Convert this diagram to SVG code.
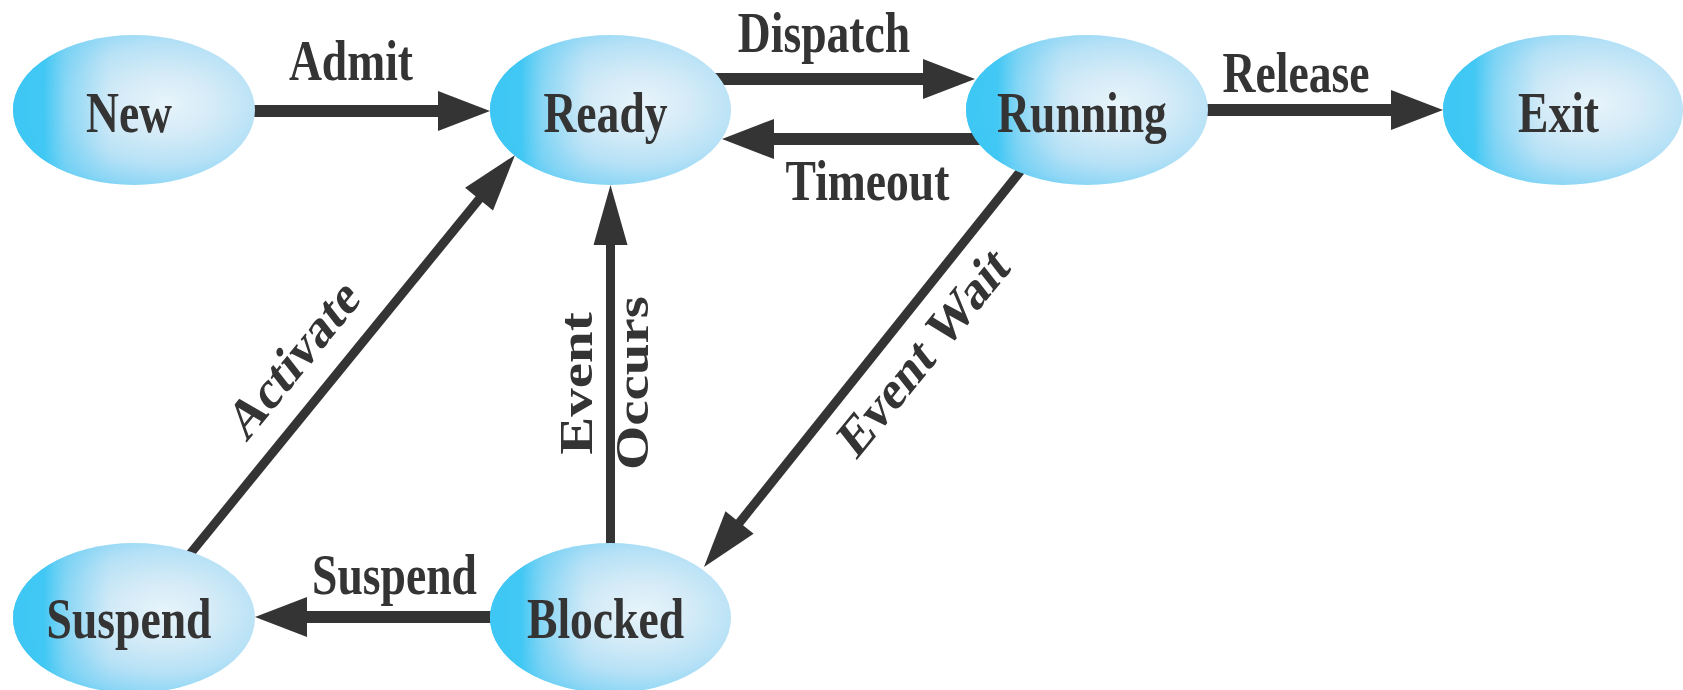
<svg xmlns="http://www.w3.org/2000/svg" width="1683" height="690" viewBox="0 0 1683 690">
  <style>
    .node { fill: url(#nodeFill); }
    .shade { fill: url(#nodeShade); }
    .lbl { font-family: "Liberation Serif", "Times New Roman", serif; font-weight: bold; font-size: 57px; fill: #353435; text-anchor: middle; }
    .edge { stroke: #353435; fill: none; stroke-linecap: butt; }
    .thick { stroke-width: 12; }
    .thin { stroke-width: 9; }
  </style>
  <defs>
    <radialGradient id="nodeFill" cx="0.63" cy="0.46" r="0.74">
      <stop offset="0" stop-color="#E8F4FB"/>
      <stop offset="0.28" stop-color="#D4EBF7"/>
      <stop offset="0.55" stop-color="#B6E1F6"/>
      <stop offset="0.75" stop-color="#8CD6F5"/>
      <stop offset="0.88" stop-color="#55CBF4"/>
      <stop offset="1" stop-color="#3EC7F4"/>
    </radialGradient>
    <linearGradient id="nodeShade" x1="0" y1="0" x2="1" y2="0">
      <stop offset="0" stop-color="#3EC7F4" stop-opacity="1"/>
      <stop offset="0.13" stop-color="#3EC7F4" stop-opacity="0.95"/>
      <stop offset="0.22" stop-color="#6CD0F4" stop-opacity="0.6"/>
      <stop offset="0.4" stop-color="#8CD6F5" stop-opacity="0"/>
    </linearGradient>
    <marker id="mh" markerUnits="userSpaceOnUse" viewBox="-53 -21 54 42" refX="-30" refY="0" markerWidth="54" markerHeight="42" orient="auto" overflow="visible">
      <path d="M0,0 L-52,-20 L-52,20 Z" fill="#353435"/>
    </marker>
    <marker id="mv" markerUnits="userSpaceOnUse" viewBox="-61 -18 62 36" refX="-30" refY="0" markerWidth="62" markerHeight="36" orient="auto" overflow="visible">
      <path d="M0,0 L-60,-17 L-60,17 Z" fill="#353435"/>
    </marker>
    <marker id="md" markerUnits="userSpaceOnUse" viewBox="-58 -19 59 38" refX="-30" refY="0" markerWidth="59" markerHeight="38" orient="auto" overflow="visible">
      <path d="M0,0 L-57,-18 L-57,18 Z" fill="#353435"/>
    </marker>
  </defs>

  <rect width="1683" height="690" fill="#FFFFFF"/>

  <g id="connectors">
    <line id="e-admit" class="edge thick" x1="250" y1="111" x2="460" y2="111" marker-end="url(#mh)"/>
    <line id="e-dispatch" class="edge thick" x1="715" y1="79" x2="945" y2="79" marker-end="url(#mh)"/>
    <line id="e-timeout" class="edge thick" x1="980" y1="139" x2="752" y2="139" marker-end="url(#mh)"/>
    <line id="e-release" class="edge thick" x1="1204" y1="110" x2="1413" y2="110" marker-end="url(#mh)"/>
    <line id="e-suspend" class="edge thick" x1="495" y1="617" x2="285" y2="617" marker-end="url(#mh)"/>
    <line id="e-occurs" class="edge thin" x1="610.5" y1="548" x2="610.5" y2="215" marker-end="url(#mv)"/>
    <line id="e-activate" class="edge thin" x1="190" y1="554" x2="496.1" y2="178.3" marker-end="url(#md)"/>
    <line id="e-wait" class="edge thin" x1="1023" y1="168" x2="722.7" y2="543.6" marker-end="url(#md)"/>

    <text class="lbl" transform="translate(351,80) scale(0.8,1)">Admit</text>
    <text class="lbl" transform="translate(824,52) scale(0.8,1)">Dispatch</text>
    <text class="lbl" transform="translate(867.5,200) scale(0.8,1)">Timeout</text>
    <text class="lbl" transform="translate(1296,92) scale(0.8,1)">Release</text>
    <text class="lbl" transform="translate(394.5,594) scale(0.8,1)">Suspend</text>
    <text class="lbl" transform="translate(592,383.5) scale(0.8,1) rotate(-90)">Event</text>
    <text class="lbl" transform="translate(648,383) scale(0.8,1) rotate(-90)">Occurs</text>
    <text class="lbl" transform="translate(304,372) scale(0.8,1) rotate(-44.5)">Activate</text>
    <text class="lbl" transform="translate(934,365) scale(0.8,1) rotate(-44.5)">Event Wait</text>
  </g>

  <g id="node-new">
    <ellipse class="node" cx="134" cy="110" rx="121" ry="75"/>
    <ellipse class="shade" cx="134" cy="110" rx="121" ry="75"/>
    <text class="lbl" transform="translate(129,132) scale(0.8,1)">New</text>
  </g>
  <g id="node-ready">
    <ellipse class="node" cx="610.5" cy="110" rx="120.5" ry="75"/>
    <ellipse class="shade" cx="610.5" cy="110" rx="120.5" ry="75"/>
    <text class="lbl" transform="translate(605.5,132) scale(0.8,1)">Ready</text>
  </g>
  <g id="node-running">
    <ellipse class="node" cx="1087" cy="110" rx="121" ry="75"/>
    <ellipse class="shade" cx="1087" cy="110" rx="121" ry="75"/>
    <text class="lbl" transform="translate(1082,132) scale(0.8,1)">Running</text>
  </g>
  <g id="node-exit">
    <ellipse class="node" cx="1563" cy="110" rx="120" ry="75"/>
    <ellipse class="shade" cx="1563" cy="110" rx="120" ry="75"/>
    <text class="lbl" transform="translate(1558.5,132) scale(0.8,1)">Exit</text>
  </g>
  <g id="node-suspend">
    <ellipse class="node" cx="134" cy="618" rx="121" ry="75"/>
    <ellipse class="shade" cx="134" cy="618" rx="121" ry="75"/>
    <text class="lbl" transform="translate(129,638) scale(0.8,1)">Suspend</text>
  </g>
  <g id="node-blocked">
    <ellipse class="node" cx="610.5" cy="618" rx="120.5" ry="75"/>
    <ellipse class="shade" cx="610.5" cy="618" rx="120.5" ry="75"/>
    <text class="lbl" transform="translate(605.5,638) scale(0.8,1)">Blocked</text>
  </g>
</svg>
